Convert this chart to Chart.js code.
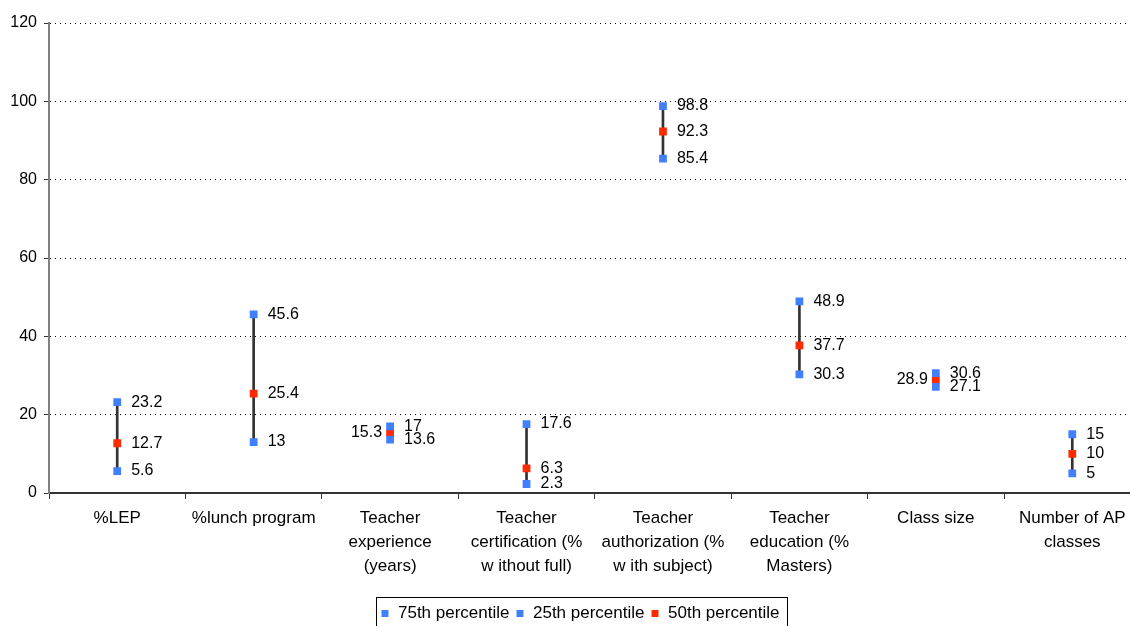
<!DOCTYPE html>
<html>
<head>
<meta charset="utf-8">
<script src="https://cdn.jsdelivr.net/npm/chart.js@4/dist/chart.umd.min.js"></script>
<style>
  html, body { margin: 0; padding: 0; background: #fff; overflow: hidden; }
  #wrap { width: 1130px; height: 626px; overflow: hidden; }
</style>
</head>
<body>
<div id="wrap"><canvas id="c" width="1146" height="626"></canvas></div>
<script>
// School indicators: 25th / 50th / 75th percentiles
const categories = [
  ["%LEP"],
  ["%lunch program"],
  ["Teacher", "experience", "(years)"],
  ["Teacher", "certification (%", "w ithout full)"],
  ["Teacher", "authorization (%", "w ith subject)"],
  ["Teacher", "education (%", "Masters)"],
  ["Class size"],
  ["Number of AP", "classes"]
];
const p75 = [23.2, 45.6, 17, 17.6, 98.8, 48.9, 30.6, 15];
const p25 = [5.6, 13, 13.6, 2.3, 85.4, 30.3, 27.1, 5];
const p50 = [12.7, 25.4, 15.3, 6.3, 92.3, 37.7, 28.9, 10];
const seriesNames = ["75th percentile", "25th percentile", "50th percentile"];
const yMin = 0, yMax = 120, yStep = 20;

const FONT = '"Liberation Sans", Arial, sans-serif';
const BLUE = '#4080ff';
const RED = '#ff2a00';

// Value labels next to each marker; some medians sit on the left side
const valueLabels = {
  id: 'valueLabels',
  afterDatasetsDraw(chart, args, opts) {
    const ctx = chart.ctx;
    ctx.save();
    ctx.font = '16px ' + FONT;
    ctx.fillStyle = '#000';
    ctx.textBaseline = 'middle';
    chart.data.datasets.forEach((ds, di) => {
      if (ds.type === 'bar') return;
      const leftSet = (opts.leftOf && opts.leftOf[di]) || [];
      chart.getDatasetMeta(di).data.forEach((pt, i) => {
        const left = leftSet.includes(i);
        ctx.textAlign = left ? 'right' : 'left';
        ctx.fillText(String(ds.data[i]), pt.x + (left ? -8 : 14), pt.y);
      });
    });
    ctx.restore();
  }
};

// Nudge the legend and frame it with a thin border
const legendFrame = {
  id: 'legendFrame',
  afterLayout(chart, args, opts) {
    const lg = chart.legend;
    lg.left += opts.dx; lg.right += opts.dx;
    lg.top += opts.dy; lg.bottom += opts.dy;
  },
  afterDraw(chart, args, opts) {
    const lg = chart.legend;
    const pad = lg.options.labels.padding;
    const lw = lg.lineWidths[0];
    const startX = (lg.left + pad + lg.right - lw) / 2;
    const endX = startX + lw - pad;
    const ctx = chart.ctx;
    ctx.save();
    ctx.strokeStyle = '#000';
    ctx.lineWidth = 1;
    ctx.strokeRect(Math.round(startX - 4) + 0.5, Math.round(lg.top + opts.boxTop) + 0.5,
                   Math.round(endX - startX + 12), 40);
    ctx.restore();
  }
};

new Chart(document.getElementById('c'), {
  type: 'line',
  data: {
    labels: categories,
    datasets: [
      { label: seriesNames[0], data: p75, showLine: false, pointStyle: 'rect',
        pointRadius: 5.5, pointBorderWidth: 0, pointBackgroundColor: BLUE, backgroundColor: BLUE, borderColor: BLUE },
      { label: seriesNames[1], data: p25, showLine: false, pointStyle: 'rect',
        pointRadius: 5.5, pointBorderWidth: 0, pointBackgroundColor: BLUE, backgroundColor: BLUE, borderColor: BLUE },
      { label: seriesNames[2], data: p50, showLine: false, pointStyle: 'rect',
        pointRadius: 5.5, pointBorderWidth: 0, pointBackgroundColor: RED, backgroundColor: RED, borderColor: RED },
      { type: 'bar', label: 'range', data: p25.map((v, i) => [v, p75[i]]),
        backgroundColor: '#333', barThickness: 2, borderWidth: 0 }
    ]
  },
  options: {
    responsive: false,
    animation: false,
    events: [],
    layout: { padding: { top: 23, right: 5, left: 0, bottom: 0 } },
    scales: {
      x: {
        offset: true,
        grid: { offset: true, drawOnChartArea: false, drawTicks: true, tickLength: 6,
                tickColor: '#333', tickWidth: 1, tickBorderDash: [] },
        border: { display: true, color: '#333', width: 2 },
        ticks: { autoSkip: false, maxRotation: 0, minRotation: 0, padding: 7, color: '#000',
                 font: { family: FONT, size: 17, lineHeight: 1.41 } },
        afterFit(scale) { scale.height = 100; }
      },
      y: {
        min: yMin, max: yMax,
        grid: { color: '#000', lineWidth: 1, drawTicks: true, tickLength: 5,
                tickColor: '#333', tickWidth: 1, tickBorderDash: [] },
        border: { display: true, color: '#808080', width: 2, dash: [1, 4] },
        ticks: { stepSize: yStep, padding: 7, color: '#000', font: { family: FONT, size: 16 } },
        afterFit(scale) { scale.width = 49; }
      }
    },
    plugins: {
      tooltip: { enabled: false },
      legend: {
        display: true,
        position: 'bottom',
        labels: {
          filter: (item) => item.datasetIndex < 3,
          usePointStyle: true,
          pointStyle: 'rect',
          boxWidth: 9,
          boxHeight: 7,
          padding: 6,
          color: '#000',
          font: { family: FONT, size: 17 }
        }
      },
      valueLabels: { leftOf: { 2: [2, 6] } },
      legendFrame: { dx: 9.5, dy: 6, boxTop: -2 }
    }
  },
  plugins: [valueLabels, legendFrame]
});
</script>
</body>
</html>
